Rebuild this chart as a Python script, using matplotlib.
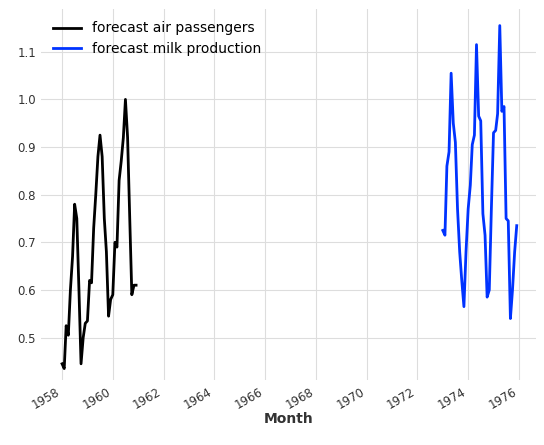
import matplotlib
matplotlib.use("Agg")
import matplotlib.pyplot as plt
import matplotlib.dates as mdates
import pandas as pd

air_dates = pd.date_range("1958-01-01", periods=36, freq="MS")
air_values = [0.445, 0.435, 0.525, 0.505, 0.60, 0.67, 0.78, 0.75, 0.60, 0.445, 0.50, 0.53,
              0.535, 0.62, 0.615, 0.73, 0.80, 0.88, 0.925, 0.88, 0.75, 0.68, 0.545, 0.58,
              0.59, 0.70, 0.69, 0.83, 0.87, 0.92, 1.00, 0.92, 0.75, 0.59, 0.61, 0.61]

milk_dates = pd.date_range("1973-01-01", periods=36, freq="MS")
milk_values = [0.725, 0.715, 0.86, 0.89, 1.055, 0.95, 0.91, 0.77, 0.68, 0.62, 0.565, 0.68,
               0.77, 0.82, 0.905, 0.925, 1.115, 0.965, 0.955, 0.76, 0.715, 0.585, 0.60, 0.77,
               0.93, 0.935, 0.97, 1.155, 0.975, 0.985, 0.75, 0.745, 0.54, 0.60, 0.68, 0.735]

fig, ax = plt.subplots(figsize=(5.44, 4.45), dpi=100)
ax.plot(air_dates, air_values, color="black", lw=2, label="forecast air passengers")
ax.plot(milk_dates, milk_values, color="#0033ff", lw=2, label="forecast milk production")

for s in ax.spines.values():
    s.set_visible(False)
ax.grid(True, color="#dddddd", lw=0.8)
ax.set_axisbelow(True)
ax.tick_params(length=0, labelsize=8.5, colors="#333333")
ax.xaxis.set_major_locator(mdates.YearLocator(2))
ax.xaxis.set_major_formatter(mdates.DateFormatter("%Y"))
ax.set_xlim(pd.Timestamp("1957-03-01"), pd.Timestamp("1976-09-01"))
ax.set_ylim(0.41, 1.19)
ax.set_xlabel("Month", fontweight="bold", fontsize=10, color="#333333", labelpad=0)
ax.legend(loc="upper left", frameon=False, fontsize=10)
fig.autofmt_xdate()
fig.subplots_adjust(left=0.075, right=0.985, top=0.98, bottom=0.145)
fig.savefig("out.png")
